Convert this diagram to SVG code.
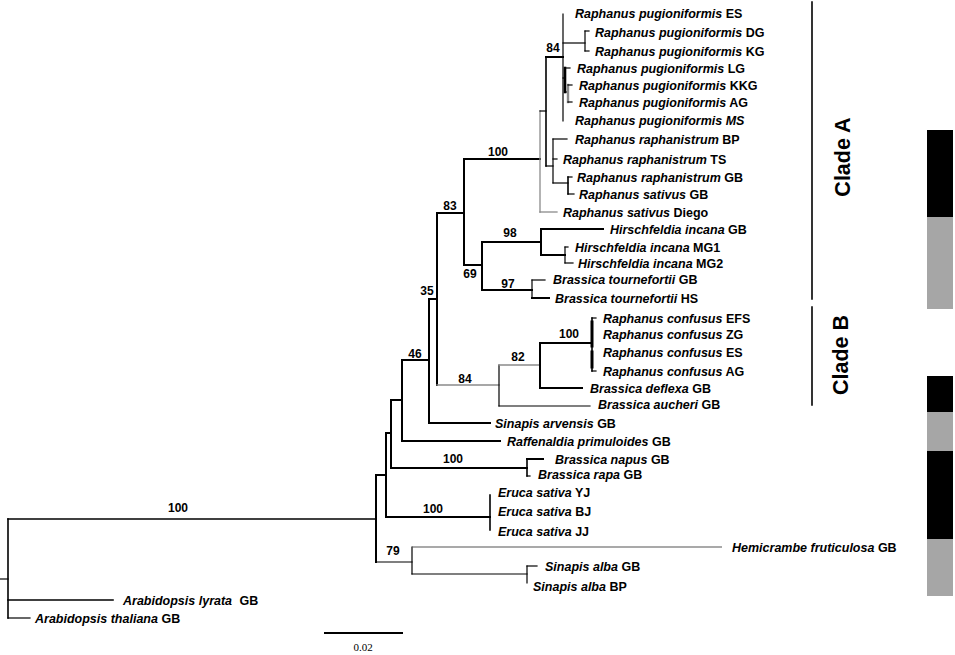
<svg xmlns="http://www.w3.org/2000/svg" width="955" height="655" viewBox="0 0 955 655">
<style>
.bg{fill:#fff}
.t{stroke:#000;stroke-width:2;fill:none;stroke-linecap:square}
.n{stroke:#000;stroke-width:1.2;fill:none;stroke-linecap:square}
.m{stroke:#000;stroke-width:1.6;fill:none;stroke-linecap:square}
.g{stroke:#8a8a8a;stroke-width:1.3;fill:none;stroke-linecap:square}
.hg{stroke:#555;stroke-width:1.2;fill:none}
.lab{font-family:"Liberation Sans",Arial,sans-serif;font-size:12.5px;font-weight:bold;fill:#000}
.sp{font-style:italic}
.bs{font-family:"Liberation Sans",Arial,sans-serif;font-size:12px;font-weight:bold;fill:#000;text-anchor:middle}
.clade{font-family:"Liberation Sans",Arial,sans-serif;font-size:21.5px;font-weight:bold;fill:#000;text-anchor:middle}
.scale{font-family:"Liberation Serif","Times New Roman",serif;font-size:11px;fill:#000;text-anchor:middle}
</style>
<rect class="bg" x="0" y="0" width="955" height="655"/>
<g id="branches">
<path class="n" d="M0,579 H8"/>
<path class="m" d="M8,519 V618"/>
<path class="m" d="M8,519 H376"/>
<path class="m" d="M8,600 H113"/>
<path class="n" d="M8,618 H30"/>
<path class="t" d="M376,475 V562"/>
<path class="t" d="M376,475 H386"/>
<path class="n" d="M376,562 H412"/>
<path class="t" d="M386,433 V517"/>
<path class="t" d="M386,517 H490"/>
<path class="m" d="M490,495 V530"/>
<path class="t" d="M386,433 H391"/>
<path class="t" d="M391,400 V468"/>
<path class="t" d="M391,468 H527"/>
<path class="m" d="M527,459 V476"/>
<path class="t" d="M527,459 H543"/>
<path class="n" d="M527,476 H530"/>
<path class="t" d="M391,400 H402"/>
<path class="t" d="M402,360 V441"/>
<path class="t" d="M402,441 H500"/>
<path class="t" d="M402,360 H429"/>
<path class="t" d="M429,299 V423"/>
<path class="t" d="M429,423 H490"/>
<path class="t" d="M429,299 H437"/>
<path class="t" d="M437,213 V385"/>
<path class="t" d="M437,213 H464"/>
<path class="g" d="M437,385 H499"/>
<path class="t" d="M464,159 V265"/>
<path class="t" d="M464,159 H540"/>
<path class="t" d="M464,265 H482"/>
<path class="t" d="M482,242 V290"/>
<path class="t" d="M482,242 H541"/>
<path class="t" d="M482,290 H532"/>
<path class="t" d="M541,229 V255"/>
<path class="t" d="M541,229 H603"/>
<path class="t" d="M541,255 H565"/>
<path class="n" d="M565,247 V263"/>
<path class="n" d="M565,247 H568"/>
<path class="n" d="M565,263 H573"/>
<path class="n" d="M532,280 V298"/>
<path class="n" d="M532,280 H545"/>
<path class="t" d="M532,298 H549"/>
<path class="g" d="M540,111 V212"/>
<path class="g" d="M540,212 H557"/>
<path class="n" d="M540,111 H546"/>
<path class="m" d="M546,57 V166"/>
<path class="t" d="M546,57 H563"/>
<path class="n" d="M546,166 H553"/>
<path class="n" d="M553,139 V183"/>
<path class="n" d="M553,139 H567"/>
<path class="n" d="M553,159 H557"/>
<path class="n" d="M553,183 H568"/>
<path class="m" d="M568,177 V194"/>
<path class="n" d="M568,177 H572"/>
<path class="n" d="M568,194 H574"/>
<path class="n" d="M563,14 V121"/>
<path class="n" d="M563,43 H585"/>
<path class="n" d="M585,31 V51"/>
<path class="n" d="M585,31 H589"/>
<path class="n" d="M585,51 H589"/>
<path class="n" d="M563,78 H565"/>
<path class="t" d="M565,68 V92" style="stroke-width:2.6"/>
<path class="n" d="M565,68 H570"/>
<path class="n" d="M565,92 H568"/>
<path class="g" d="M568,85 V102" style="stroke-width:2.4"/>
<path class="n" d="M568,85 H572"/>
<path class="n" d="M568,102 H572"/>
<path class="n" d="M499,365 V406"/>
<path class="g" d="M499,365 H540"/>
<path class="n" d="M499,406 H590"/>
<path class="t" d="M540,343 V388"/>
<path class="t" d="M540,343 H592"/>
<path class="t" d="M540,388 H582"/>
<path class="m" d="M592,318 V371"/>
<path class="t" d="M592,322 V346" style="stroke-width:3"/>
<path class="t" d="M592,352 V367" style="stroke-width:3"/>
<path class="n" d="M592,318 H596"/>
<path class="n" d="M592,371 H596"/>
<path class="n" d="M412,547 V574"/>
<path class="hg" d="M412,547 H722"/>
<path class="n" d="M412,574 H527"/>
<path class="n" d="M527,566 V583"/>
<path class="n" d="M527,566 H537"/>
</g>
<g id="taxa">
<g id="t1"><text class="lab" x="575" y="17.5"><tspan class="sp">Raphanus pugioniformis</tspan> ES</text></g>
<g id="t2"><text class="lab" x="595" y="36.5"><tspan class="sp">Raphanus pugioniformis</tspan> DG</text></g>
<g id="t3"><text class="lab" x="595" y="55.5"><tspan class="sp">Raphanus pugioniformis</tspan> KG</text></g>
<g id="t4"><text class="lab" x="577" y="72.5"><tspan class="sp">Raphanus pugioniformis</tspan> LG</text></g>
<g id="t5"><text class="lab" x="579" y="89.5"><tspan class="sp">Raphanus pugioniformis</tspan> KKG</text></g>
<g id="t6"><text class="lab" x="579" y="106.5"><tspan class="sp">Raphanus pugioniformis</tspan> AG</text></g>
<g id="t7"><text class="lab" x="575" y="124.5"><tspan class="sp">Raphanus pugioniformis MS</tspan></text></g>
<g id="t8"><text class="lab" x="575" y="143.5"><tspan class="sp">Raphanus raphanistrum</tspan> BP</text></g>
<g id="t9"><text class="lab" x="563" y="163.5"><tspan class="sp">Raphanus raphanistrum</tspan> TS</text></g>
<g id="t10"><text class="lab" x="577" y="181.5"><tspan class="sp">Raphanus raphanistrum</tspan> GB</text></g>
<g id="t11"><text class="lab" x="579" y="198.5"><tspan class="sp">Raphanus sativus</tspan> GB</text></g>
<g id="t12"><text class="lab" x="563" y="216.5"><tspan class="sp">Raphanus sativus</tspan> Diego</text></g>
<g id="t13"><text class="lab" x="610" y="233.5"><tspan class="sp">Hirschfeldia incana</tspan> GB</text></g>
<g id="t14"><text class="lab" x="575" y="251.5"><tspan class="sp">Hirschfeldia incana</tspan> MG1</text></g>
<g id="t15"><text class="lab" x="578" y="267.5"><tspan class="sp">Hirschfeldia incana</tspan> MG2</text></g>
<g id="t16"><text class="lab" x="553" y="283.5"><tspan class="sp">Brassica tournefortii</tspan> GB</text></g>
<g id="t17"><text class="lab" x="555" y="302.5"><tspan class="sp">Brassica tournefortii</tspan> HS</text></g>
<g id="t18"><text class="lab" x="603" y="322.5"><tspan class="sp">Raphanus confusus</tspan> EFS</text></g>
<g id="t19"><text class="lab" x="603" y="338.5"><tspan class="sp">Raphanus confusus</tspan> ZG</text></g>
<g id="t20"><text class="lab" x="603" y="356.5"><tspan class="sp">Raphanus confusus</tspan> ES</text></g>
<g id="t21"><text class="lab" x="603" y="375.5"><tspan class="sp">Raphanus confusus</tspan> AG</text></g>
<g id="t22"><text class="lab" x="590" y="392.5"><tspan class="sp">Brassica deflexa</tspan> GB</text></g>
<g id="t23"><text class="lab" x="598" y="408.5"><tspan class="sp">Brassica aucheri</tspan> GB</text></g>
<g id="t24"><text class="lab" x="495" y="427.5"><tspan class="sp">Sinapis arvensis</tspan> GB</text></g>
<g id="t25"><text class="lab" x="507" y="445.5"><tspan class="sp">Raffenaldia primuloides</tspan> GB</text></g>
<g id="t26"><text class="lab" x="555" y="463.5"><tspan class="sp">Brassica napus</tspan> GB</text></g>
<g id="t27"><text class="lab" x="538" y="478.5"><tspan class="sp">Brassica rapa</tspan> GB</text></g>
<g id="t28"><text class="lab" x="498" y="496.5"><tspan class="sp">Eruca sativa</tspan> YJ</text></g>
<g id="t29"><text class="lab" x="498" y="515.5"><tspan class="sp">Eruca sativa</tspan> BJ</text></g>
<g id="t30"><text class="lab" x="498" y="535.5"><tspan class="sp">Eruca sativa</tspan> JJ</text></g>
<g id="t31"><text class="lab" x="732" y="551.5"><tspan class="sp">Hemicrambe fruticulosa</tspan> GB</text></g>
<g id="t32"><text class="lab" x="545" y="570.5"><tspan class="sp">Sinapis alba</tspan> GB</text></g>
<g id="t33"><text class="lab" x="533" y="590.5"><tspan class="sp">Sinapis alba</tspan> BP</text></g>
<g id="t34"><text class="lab" x="123" y="604.5"><tspan class="sp">Arabidopsis lyrata</tspan> <tspan dx="4">GB</tspan></text></g>
<g id="t35"><text class="lab" x="35" y="622.5"><tspan class="sp">Arabidopsis thaliana</tspan> GB</text></g>
</g>
<g id="support">
<text class="bs" x="553" y="52">84</text>
<text class="bs" x="498" y="156">100</text>
<text class="bs" x="450" y="210">83</text>
<text class="bs" x="510" y="237">98</text>
<text class="bs" x="470" y="278">69</text>
<text class="bs" x="508" y="288">97</text>
<text class="bs" x="427" y="295">35</text>
<text class="bs" x="415" y="358">46</text>
<text class="bs" x="465" y="383">84</text>
<text class="bs" x="518" y="361">82</text>
<text class="bs" x="569" y="338">100</text>
<text class="bs" x="453" y="463">100</text>
<text class="bs" x="433" y="513">100</text>
<text class="bs" x="393" y="555">79</text>
<text class="bs" x="178" y="512">100</text>
</g>
<g id="scalebar">
<path class="t" d="M325,633 H402"/>
<text class="scale" x="363" y="651">0.02</text>
</g>
<g id="cladeA">
<path class="m" d="M812,2 V299"/>
<text class="clade" transform="translate(850,157) rotate(-90)">Clade A</text>
</g>
<g id="cladeB">
<path class="m" d="M812,307 V405"/>
<text class="clade" transform="translate(848,355) rotate(-90)">Clade B</text>
</g>
<g id="bars">
<rect x="927" y="130" width="26" height="87" fill="#000"/>
<rect x="927" y="217" width="26" height="92" fill="#a6a6a6"/>
<rect x="927" y="376" width="26" height="36" fill="#000"/>
<rect x="927" y="412" width="26" height="39" fill="#a6a6a6"/>
<rect x="927" y="451" width="26" height="88" fill="#000"/>
<rect x="927" y="539" width="26" height="57" fill="#a6a6a6"/>
</g>
</svg>
